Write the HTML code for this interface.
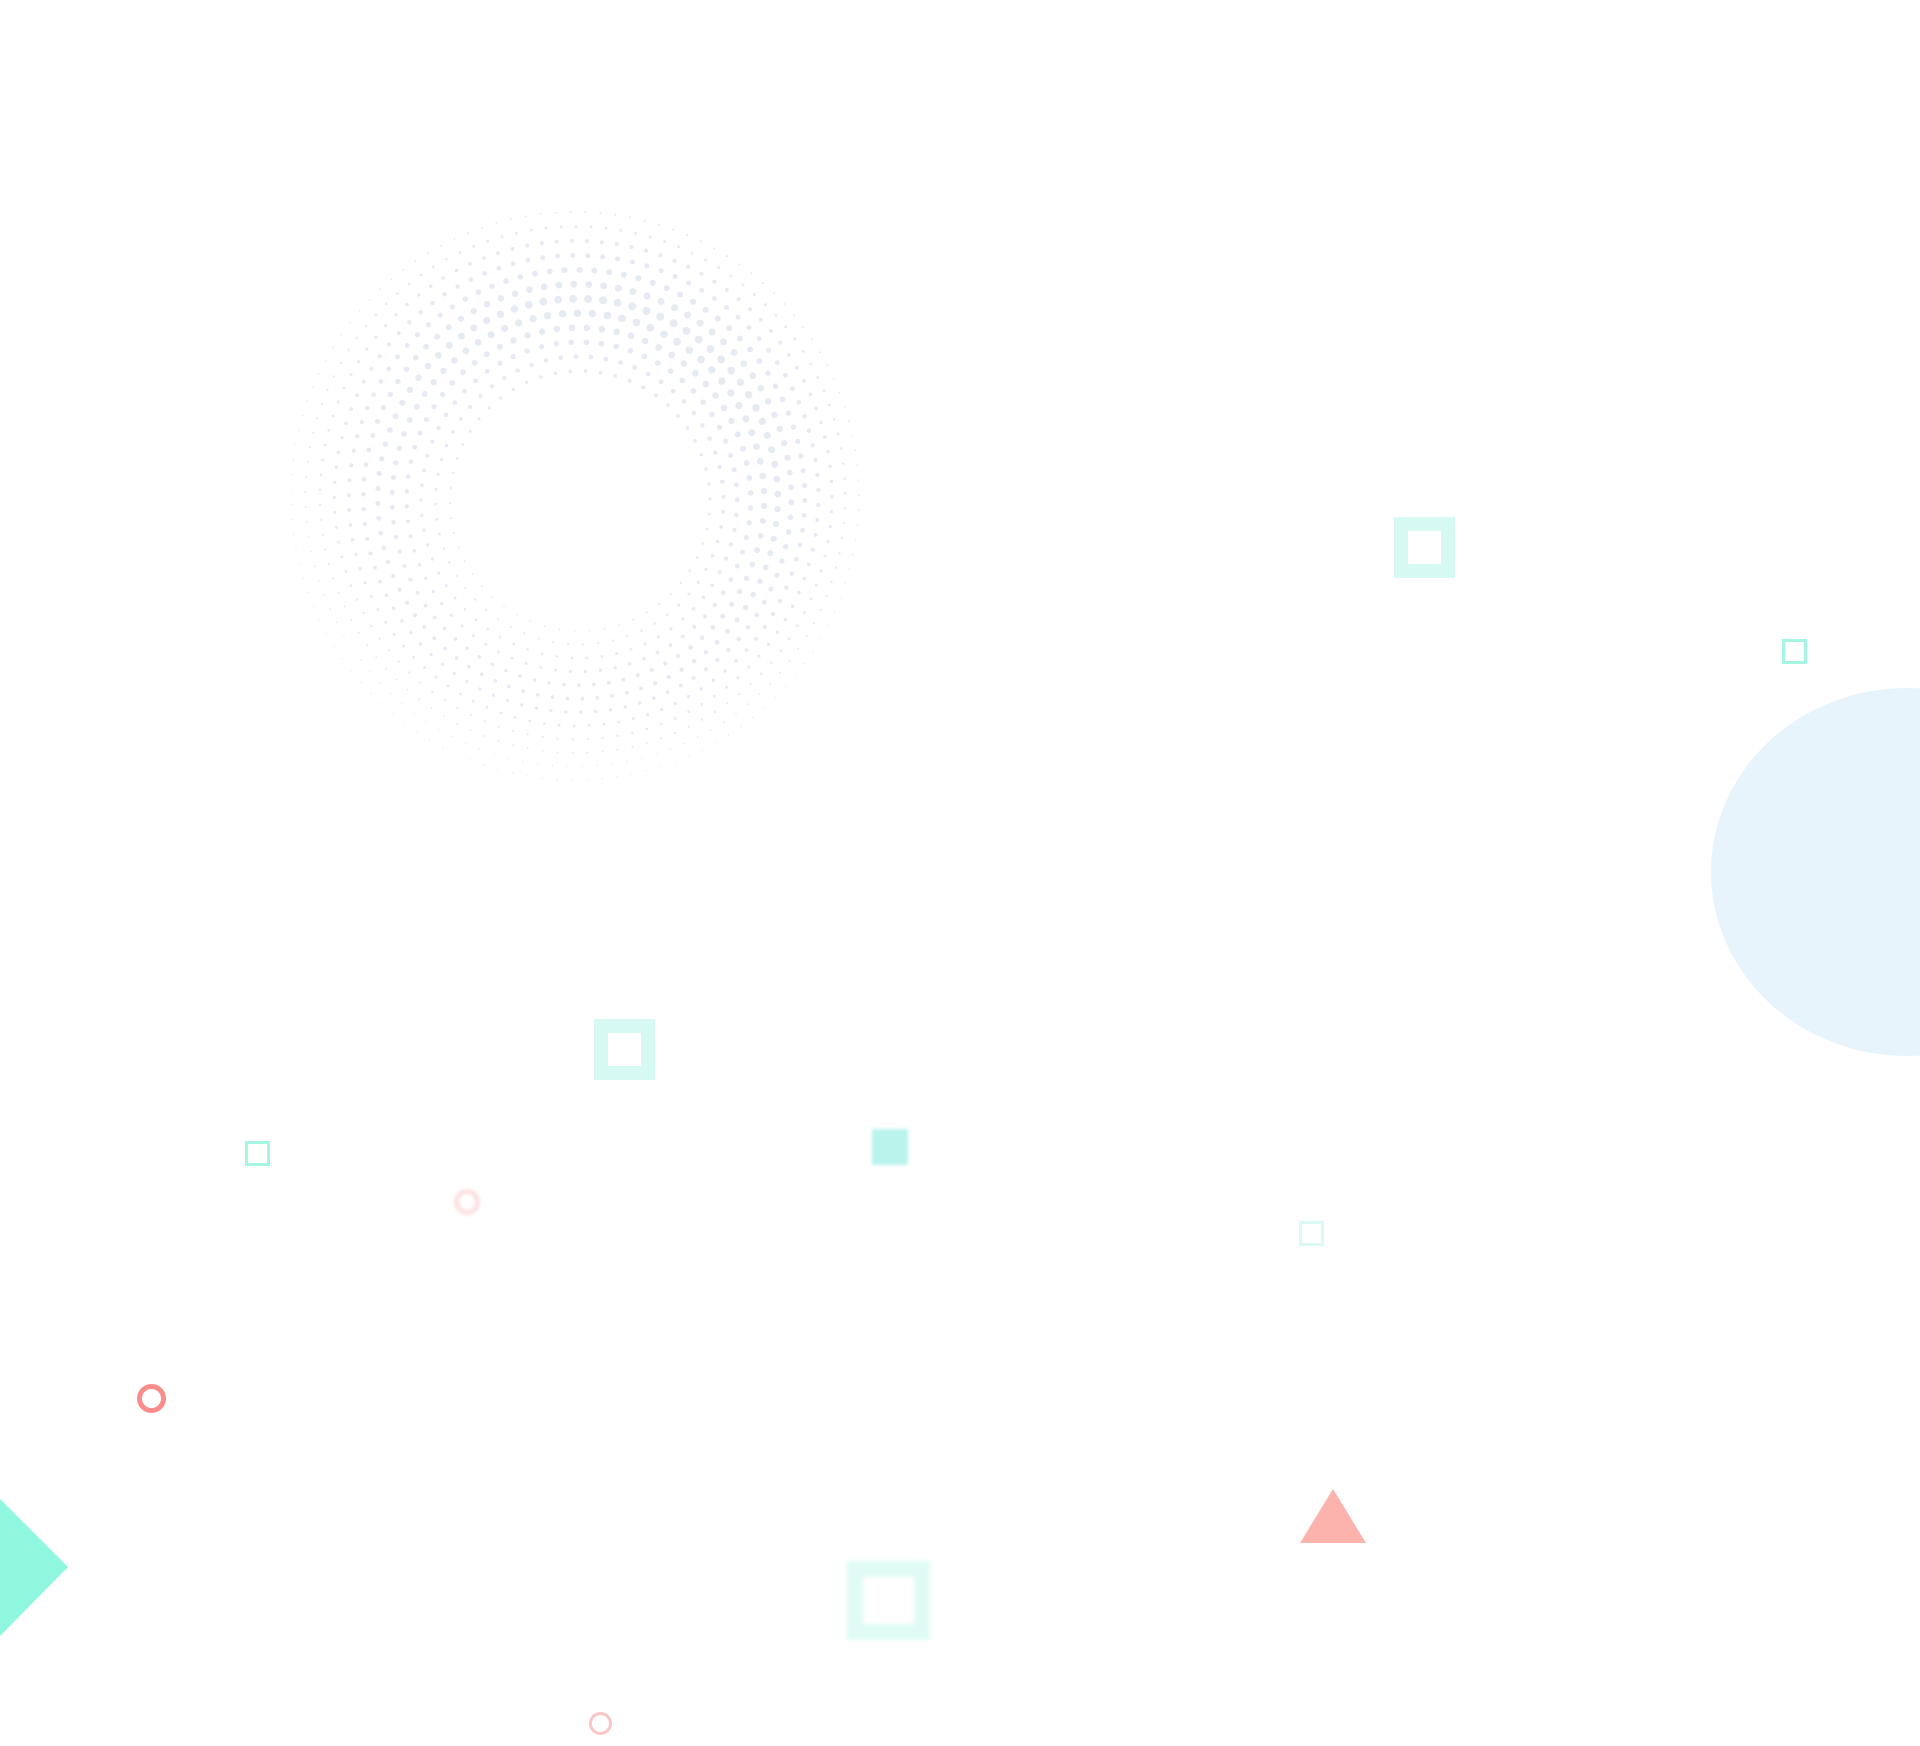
<!DOCTYPE html>
<html><head><meta charset="utf-8"><style>
html,body{margin:0;padding:0;background:#fff;}
body{width:1920px;height:1746px;position:relative;overflow:hidden;}
.a{position:absolute;box-sizing:border-box;}
</style></head><body>
<svg id="dots" class="a" style="left:0;top:0" width="1920" height="1746"></svg>
<div class="a" style="left:1394px;top:517px;width:61px;height:61px;border:14px solid #d6faf3"></div>
<div class="a" style="left:1782px;top:639px;width:25px;height:25px;border:3px solid #a4f5e2"></div>
<div class="a" style="left:1711px;top:688px;width:392px;height:368px;border-radius:50%;background:#e8f4fc"></div>
<div class="a" style="left:594px;top:1019px;width:61px;height:61px;border:14px solid #d6faf3"></div>
<div class="a" style="left:245px;top:1141px;width:25px;height:25px;border:3px solid #a4f5e2"></div>
<div class="a" style="left:872px;top:1129px;width:36px;height:36px;background:#b9f3ec;filter:blur(1.5px)"></div>
<div class="a" style="left:454px;top:1189px;width:26px;height:26px;border-radius:50%;border:5px solid #fde0e0;filter:blur(1.5px)"></div>
<div class="a" style="left:1299px;top:1221px;width:25px;height:25px;border:3px solid #dcfaf3"></div>
<div class="a" style="left:137px;top:1384px;width:29px;height:29px;border-radius:50%;border:5px solid #fb8c8c"></div>
<div class="a" style="left:847px;top:1561px;width:83px;height:79px;border:16px solid #e0fbf5;filter:blur(2px)"></div>
<div class="a" style="left:589px;top:1712px;width:23px;height:23px;border-radius:50%;border:3px solid #f9c5c5"></div>
<svg class="a" style="left:0;top:0" width="1920" height="1746">
<polygon points="0,1499 68,1567 0,1636" fill="#8ef7de"/>
<polygon points="1333,1489 1300,1543 1366,1543" fill="#fdb3ad"/>
</svg>
<script>
var s=document.getElementById('dots'),h='';
var cx=575,cy=496;
for(var r=130;r<=285;r+=14){
 var n=Math.round(2*Math.PI*r/15);
 for(var i=0;i<n;i++){
  var t=i/n*2*Math.PI+r*0.05;
  var ox=5*(1-(r-130)/155), oy=5*(1-(r-130)/155);
  var x=cx+ox+r*Math.cos(t), y=cy+oy+r*Math.sin(t);
  var d=Math.abs(r-195)/90;
  var w=0.5+0.5*Math.cos(t+1.2);
  var rad=(4.2-3.2*d)*(0.45+0.55*w);
  if(rad<0.7) rad=0.7;
  h+='<circle cx="'+x.toFixed(1)+'" cy="'+y.toFixed(1)+'" r="'+rad.toFixed(2)+'" fill="#e6eaf2"/>';
 }
}
s.innerHTML=h;
</script>
</body></html>
